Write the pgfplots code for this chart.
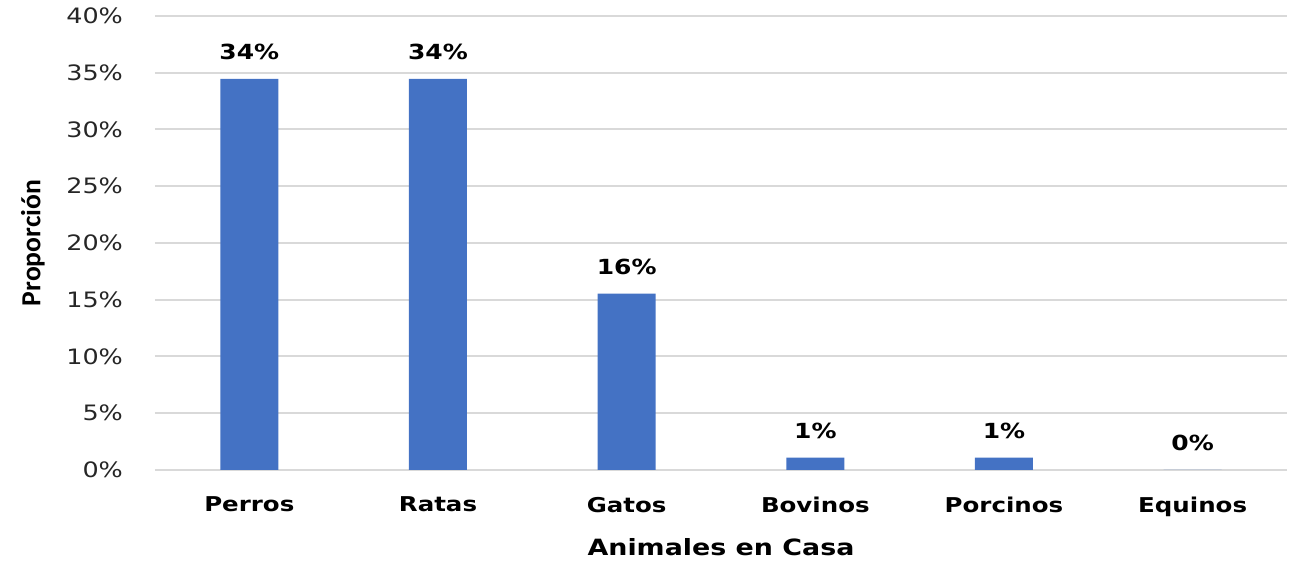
\documentclass[border=0pt]{standalone}
\usepackage{pgfplots}
\pgfplotsset{compat=1.18}
\usepackage{fontspec}
\setmainfont{DejaVu Sans}[FakeStretch=1.2]
\newfontfamily\calibri{Carlito}
\definecolor{barblue}{HTML}{4472C4}
\definecolor{gridgray}{HTML}{D9D9D9}
\definecolor{txt}{HTML}{262626}

\begin{document}
\begin{tikzpicture}
\useasboundingbox (-77.5pt,-45.5pt) rectangle (571pt,235pt);
\begin{axis}[
  scale only axis,
  width=566pt, height=227pt,
  at={(0,0)}, anchor=south west,
  xmin=-0.5, xmax=5.5,
  ymin=0, ymax=40,
  ytick={0,5,...,40},
  xtick={0,...,5},
  xticklabels={Perros,Ratas,Gatos,Bovinos,Porcinos,Equinos},
  xticklabel style={font=\fontsize{10.2}{11}\selectfont\bfseries, text=black, yshift=-10pt},
  yticklabel={\pgfmathprintnumber{\tick}\%},
  yticklabel style={font=\fontsize{10.6}{12}\selectfont, text=txt, xshift=-12.5pt},
  /pgf/number format/assume math mode=true,
  axis lines=left,
  axis line style={draw=none},
  major tick length=0pt,
  ymajorgrids,
  grid style={gridgray, line width=1pt},
  xlabel={Animales en Casa},
  xlabel style={font=\fontsize{11.2}{13}\selectfont\bfseries, text=black, yshift=-4pt},
  ylabel={\calibri\bfseries Proporción},
  ylabel style={font=\fontsize{13.8}{15}\selectfont, text=black,
    at={(axis description cs:-0.108,0.5)}, anchor=center},
  ybar, bar width=29pt,
  nodes near coords={\pgfmathprintnumber[fixed,precision=0]{\pgfplotspointmeta}\%},
  nodes near coords style={font=\fontsize{10.4}{11}\selectfont\bfseries, text=black, yshift=6pt},
]
\addplot[fill=barblue, draw=none] coordinates {
  (0,34.45) (1,34.45) (2,15.55) (3,1.1) (4,1.1) (5,0)
};
\end{axis}
\end{tikzpicture}
\end{document}
